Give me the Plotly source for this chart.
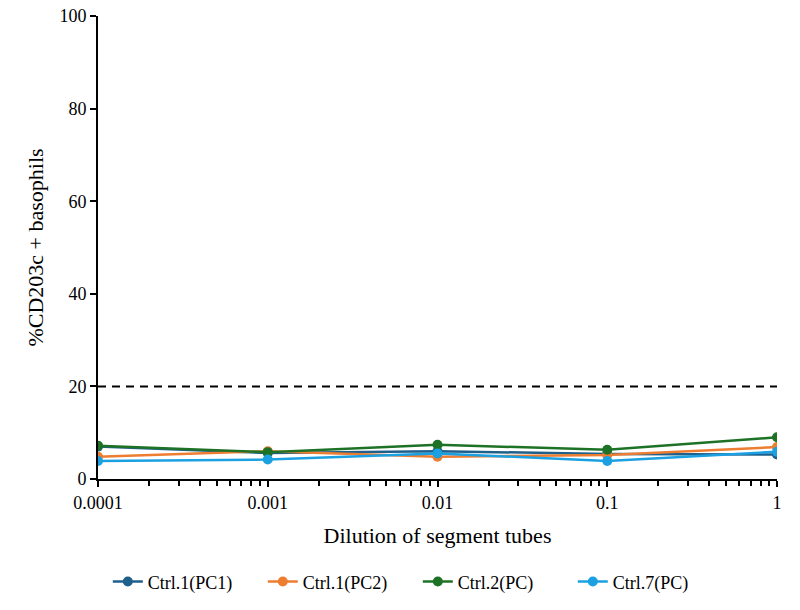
import plotly.graph_objects as go

dilutions = [0.0001, 0.001, 0.01, 0.1, 1]
tick_labels = ["0.0001", "0.001", "0.01", "0.1", "1"]
series_names = ["Ctrl.1(PC1)", "Ctrl.1(PC2)", "Ctrl.2(PC)", "Ctrl.7(PC)"]
ctrl1_pc1 = [7.0, 5.6, 6.0, 5.4, 5.3]
ctrl1_pc2 = [4.8, 6.0, 4.8, 5.2, 6.9]
ctrl2_pc = [7.2, 5.8, 7.4, 6.3, 9.0]
ctrl7_pc = [3.9, 4.2, 5.5, 3.9, 5.9]
threshold = 20
colors = ["#1F5F8B", "#ED7D31", "#1E7226", "#1BA1E2"]

font = "Liberation Serif"

fig = go.Figure()
fig.add_trace(go.Scatter(x=[dilutions[0], dilutions[-1]], y=[threshold, threshold],
                         mode="lines", line=dict(color="black", width=2, dash="8px,6px"),
                         showlegend=False, hoverinfo="skip"))
for name, vals, c in zip(series_names, [ctrl1_pc1, ctrl1_pc2, ctrl2_pc, ctrl7_pc], colors):
    fig.add_trace(go.Scatter(x=dilutions, y=vals, name=name, mode="lines+markers",
                             line=dict(color=c, width=2.5), marker=dict(color=c, size=10)))

fig.update_layout(
    width=800, height=610,
    margin=dict(l=98, r=23, t=16, b=131, autoexpand=False),
    plot_bgcolor="white", paper_bgcolor="white",
    font=dict(family=font, size=18, color="black"),
    legend=dict(orientation="h", x=0.471, xanchor="center", y=-0.222, yanchor="middle",
                font=dict(family=font, size=18, color="black"),
                entrywidth=110, entrywidthmode="pixels", traceorder="normal"),
)
fig.update_xaxes(type="log", range=[-4, 0], showline=True, linecolor="black", linewidth=2,
                 ticks="outside", ticklen=6, tickcolor="black", tickwidth=1.5,
                 tickvals=dilutions, ticktext=tick_labels,
                 showgrid=False, zeroline=False, automargin=False,
                 minor=dict(ticks="outside", ticklen=5, tickcolor="black", tickwidth=1.5,
                            dtick="D1", showgrid=False),
                 title=dict(text="Dilution of segment tubes",
                            font=dict(family=font, size=22, color="black"), standoff=16),
                 tickfont=dict(family=font, size=18, color="black"))
fig.update_yaxes(range=[0, 100], showline=True, linecolor="black", linewidth=2,
                 ticks="outside", ticklen=6, tickcolor="black", tickwidth=1.5,
                 dtick=20, showgrid=False, zeroline=False, automargin=False,
                 title=dict(text="%CD203c + basophils",
                            font=dict(family=font, size=22, color="black"), standoff=10),
                 tickfont=dict(family=font, size=18, color="black"))
fig.write_html("out.html")
